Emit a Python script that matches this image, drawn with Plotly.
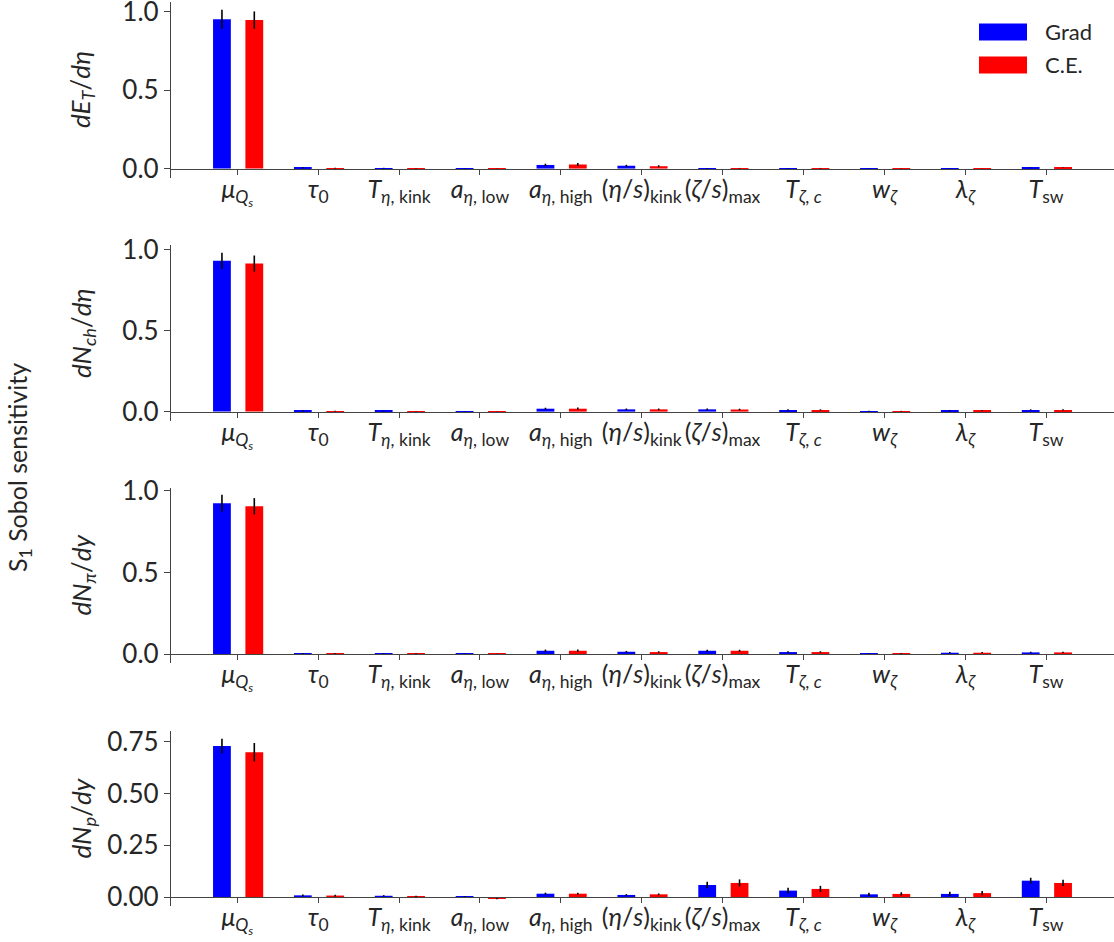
import plotly.graph_objects as go

# parameter labels (x axis)
params = [
    "<i>μ</i><sub><i>Q<sub>s</sub></i></sub>",
    "<i>τ</i><sub>0</sub>",
    "<i>T</i><sub><i>η</i>, kink</sub>",
    "<i>a</i><sub><i>η</i>, low</sub>",
    "<i>a</i><sub><i>η</i>, high</sub>",
    "(<i>η</i>/<i>s</i>)<sub>kink</sub>",
    "(<i>ζ</i>/<i>s</i>)<sub>max</sub>",
    "<i>T</i><sub><i>ζ</i>, <i>c</i></sub>",
    "<i>w</i><sub><i>ζ</i></sub>",
    "<i>λ</i><sub><i>ζ</i></sub>",
    "<i>T</i><sub>sw</sub>",
]

obs_labels = [
    "<i>dE<sub>T</sub></i>/<i>dη</i>",
    "<i>dN<sub>ch</sub></i>/<i>dη</i>",
    "<i>dN<sub>π</sub></i>/<i>dy</i>",
    "<i>dN<sub>p</sub></i>/<i>dy</i>",
]

# S1 values, Grad emulator
grad_ET = [0.950, 0.005, 0.003, 0.001, 0.023, 0.018, 0.002, 0.002, 0.001, 0.001, 0.005]
grad_Nch = [0.932, 0.005, 0.004, 0.002, 0.018, 0.014, 0.014, 0.010, 0.003, 0.007, 0.010]
grad_Npi = [0.923, 0.004, 0.004, 0.002, 0.020, 0.014, 0.020, 0.012, 0.003, 0.008, 0.010]
grad_Np = [0.730, 0.008, 0.006, 0.002, 0.016, 0.010, 0.058, 0.031, 0.013, 0.015, 0.079]

# S1 values, C.E. emulator
ce_ET = [0.945, 0.003, 0.002, 0.001, 0.026, 0.015, 0.002, 0.002, 0.001, 0.001, 0.006]
ce_Nch = [0.915, 0.003, 0.002, 0.002, 0.018, 0.014, 0.013, 0.010, 0.003, 0.007, 0.010]
ce_Npi = [0.905, 0.002, 0.002, 0.002, 0.020, 0.012, 0.020, 0.012, 0.003, 0.008, 0.010]
ce_Np = [0.700, 0.007, 0.003, -0.008, 0.016, 0.013, 0.068, 0.039, 0.015, 0.019, 0.068]

# error bars
grad_ET_err = [0.060, 0.003, 0.002, 0.001, 0.008, 0.006, 0.002, 0.002, 0.001, 0.001, 0.003]
grad_Nch_err = [0.050, 0.003, 0.002, 0.001, 0.006, 0.005, 0.005, 0.004, 0.002, 0.003, 0.004]
grad_Npi_err = [0.052, 0.003, 0.002, 0.001, 0.007, 0.005, 0.006, 0.005, 0.002, 0.004, 0.004]
grad_Np_err = [0.036, 0.004, 0.003, 0.002, 0.005, 0.004, 0.016, 0.014, 0.008, 0.010, 0.014]
ce_ET_err = [0.055, 0.003, 0.002, 0.001, 0.009, 0.006, 0.002, 0.002, 0.001, 0.001, 0.003]
ce_Nch_err = [0.050, 0.003, 0.002, 0.001, 0.007, 0.005, 0.005, 0.004, 0.002, 0.003, 0.004]
ce_Npi_err = [0.050, 0.003, 0.002, 0.001, 0.007, 0.005, 0.006, 0.005, 0.002, 0.004, 0.004]
ce_Np_err = [0.045, 0.004, 0.003, 0.003, 0.005, 0.004, 0.017, 0.015, 0.008, 0.010, 0.015]

grad_vals = [grad_ET, grad_Nch, grad_Npi, grad_Np]
ce_vals = [ce_ET, ce_Nch, ce_Npi, ce_Np]
grad_errs = [grad_ET_err, grad_Nch_err, grad_Npi_err, grad_Np_err]
ce_errs = [ce_ET_err, ce_Nch_err, ce_Npi_err, ce_Np_err]

W, H = 1114, 942
L = 171
FONT = "Lato"
INK = "#262626"
BLUE, RED = "#0000ff", "#ff0000"

# panel pixel extents (top, bottom) and y ranges
panels_px = [(2, 178), (245, 421), (488, 663), (731, 906)]
y_ranges = [(-0.06, 1.06), (-0.058, 1.03), (-0.055, 1.017), (-0.0435, 0.803)]
tick_sets = [([0, 0.5, 1.0], ".1f"), ([0, 0.5, 1.0], ".1f"), ([0, 0.5, 1.0], ".1f"),
             ([0, 0.25, 0.5, 0.75], ".2f")]
x_range = [-0.82, 10.84]


def px_x(p):
    return (p - L) / (W - L)


def px_y(p):
    return 1 - p / H


fig = go.Figure()
layout = {}
annotations = []

for i in range(4):
    top, bot = panels_px[i]
    d0, d1 = px_y(bot), px_y(top)
    lo, hi = y_ranges[i]
    n = "" if i == 0 else str(i + 1)
    fig.add_trace(go.Bar(
        x=params, y=grad_vals[i], name="Grad", showlegend=False,
        marker=dict(color=BLUE, line=dict(width=0)),
        offset=-0.3, width=0.22,
        error_y=dict(type="data", array=grad_errs[i], color="black", thickness=1.6, width=0),
        xaxis="x" + n, yaxis="y" + n,
    ))
    fig.add_trace(go.Bar(
        x=params, y=ce_vals[i], name="C.E.", showlegend=False,
        marker=dict(color=RED, line=dict(width=0)),
        offset=0.1, width=0.22,
        error_y=dict(type="data", array=ce_errs[i], color="black", thickness=1.6, width=0),
        xaxis="x" + n, yaxis="y" + n,
    ))
    pos = d0 + (0 - lo) / (hi - lo) * (d1 - d0)
    layout["xaxis" + n] = dict(
        type="category", range=x_range, domain=[0, 1], anchor="free", position=pos,
        showline=True, linecolor="#444", linewidth=1.3, ticks="outside", ticklen=5,
        tickcolor="#444", tickwidth=1.2, showgrid=False, zeroline=False,
        tickfont=dict(family=FONT, size=25, color=INK), ticklabeloverflow="allow",
        ticklabelstandoff=-7,
    )
    layout["yaxis" + n] = dict(
        domain=[d0, d1], range=[lo, hi], anchor="x" + n,
        showline=True, linecolor="#444", linewidth=1.3, ticks="outside", ticklen=6,
        tickcolor="#444", tickwidth=1.2, showgrid=False, zeroline=False,
        tickvals=tick_sets[i][0], tickformat=tick_sets[i][1],
        tickfont=dict(family=FONT, size=26, color=INK), ticklabeloverflow="allow",
    )
    annotations.append(dict(
        text=obs_labels[i], xref="paper", yref="paper",
        x=px_x(82), y=(d0 + d1) / 2, textangle=-90,
        showarrow=False, font=dict(family=FONT, size=26, color=INK),
        xanchor="center", yanchor="middle",
    ))

annotations.append(dict(
    text="S<sub>1</sub> Sobol sensitivity", xref="paper", yref="paper",
    x=px_x(19), y=px_y(468), textangle=-90, showarrow=False,
    font=dict(family=FONT, size=25, color=INK), xanchor="center", yanchor="middle",
))

# legend drawn by hand (wide swatches)
shapes = []
for name, color, yc in [("Grad", BLUE, 32), ("C.E.", RED, 65)]:
    shapes.append(dict(type="rect", xref="paper", yref="paper",
                       x0=px_x(979), x1=px_x(1027), y0=px_y(yc + 8.5), y1=px_y(yc - 8.5),
                       fillcolor=color, line=dict(width=0)))
    annotations.append(dict(text=name, xref="paper", yref="paper", x=px_x(1043), y=px_y(yc),
                            xanchor="left", yanchor="middle", showarrow=False,
                            font=dict(family=FONT, size=22, color=INK)))

fig.update_layout(
    **layout,
    annotations=annotations,
    shapes=shapes,
    width=W, height=H,
    margin=dict(l=L, r=0, t=0, b=0, autoexpand=False),
    plot_bgcolor="white", paper_bgcolor="white",
    barmode="overlay",
    showlegend=False,
    font=dict(family=FONT, color=INK),
)

fig.write_html("out.html", config={"displayModeBar": False},
               post_script="document.body.style.margin='0';")
